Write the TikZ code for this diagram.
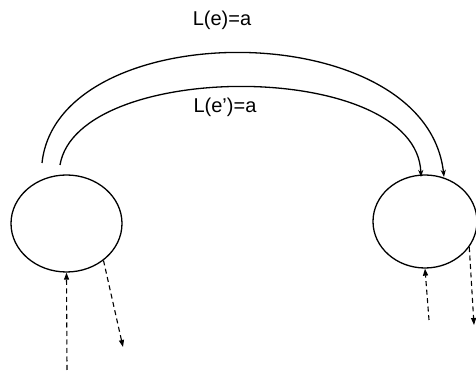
\documentclass[tikz,border=0pt]{standalone}
\usepackage{fontspec}
\setmainfont{Liberation Sans}
\usetikzlibrary{arrows.meta,shapes.geometric}
\begin{document}
\begin{tikzpicture}[x=1pt,y=1pt,
  state/.style={draw,ellipse,line width=1.3pt,inner sep=0pt},
  edge/.style={line width=1.3pt,-{Stealth[length=7pt,width=5pt,inset=2pt]}},
  aux/.style={line width=1.1pt,dash pattern=on 5pt off 3.5pt,-{Triangle[length=7pt,width=5pt]}},
  lbl/.style={font=\fontsize{20}{24}\selectfont}]
\useasboundingbox (0,0) rectangle (476,374);
% the two states
\node[state,minimum width=111pt,minimum height=97pt] (u) at (66.5,150.5) {};
\node[state,minimum width=104pt,minimum height=93pt] (v) at (425,152.5) {};
% where the two labelled edges leave u
\coordinate (uo) at (42,211);
\coordinate (ui) at (60,209);
\coordinate (vo) at (444,197);
\coordinate (vi) at (421,197);
% labelled edges from u to v
\draw[edge] (uo) .. controls (58,360) and (426,360) .. (vo);
\draw[edge] (ui) .. controls (78,315) and (417,315) .. (vi);
\node[lbl] (le) at (222,354) {L(e)=a};
\node[lbl] (lf) at (225,267) {L(e’)=a};
% incoming and outgoing dashed edges
\coordinate (uin) at (67,4);
\coordinate (uout) at (123,27);
\coordinate (vin) at (429,54);
\coordinate (vout) at (474,49);
\draw[aux] (uin) -- (u.south);
\draw[aux] (u.-45) -- (uout);
\draw[aux] (vin) -- (v.south);
\draw[aux] (v.-30) -- (vout);
\end{tikzpicture}
\end{document}
